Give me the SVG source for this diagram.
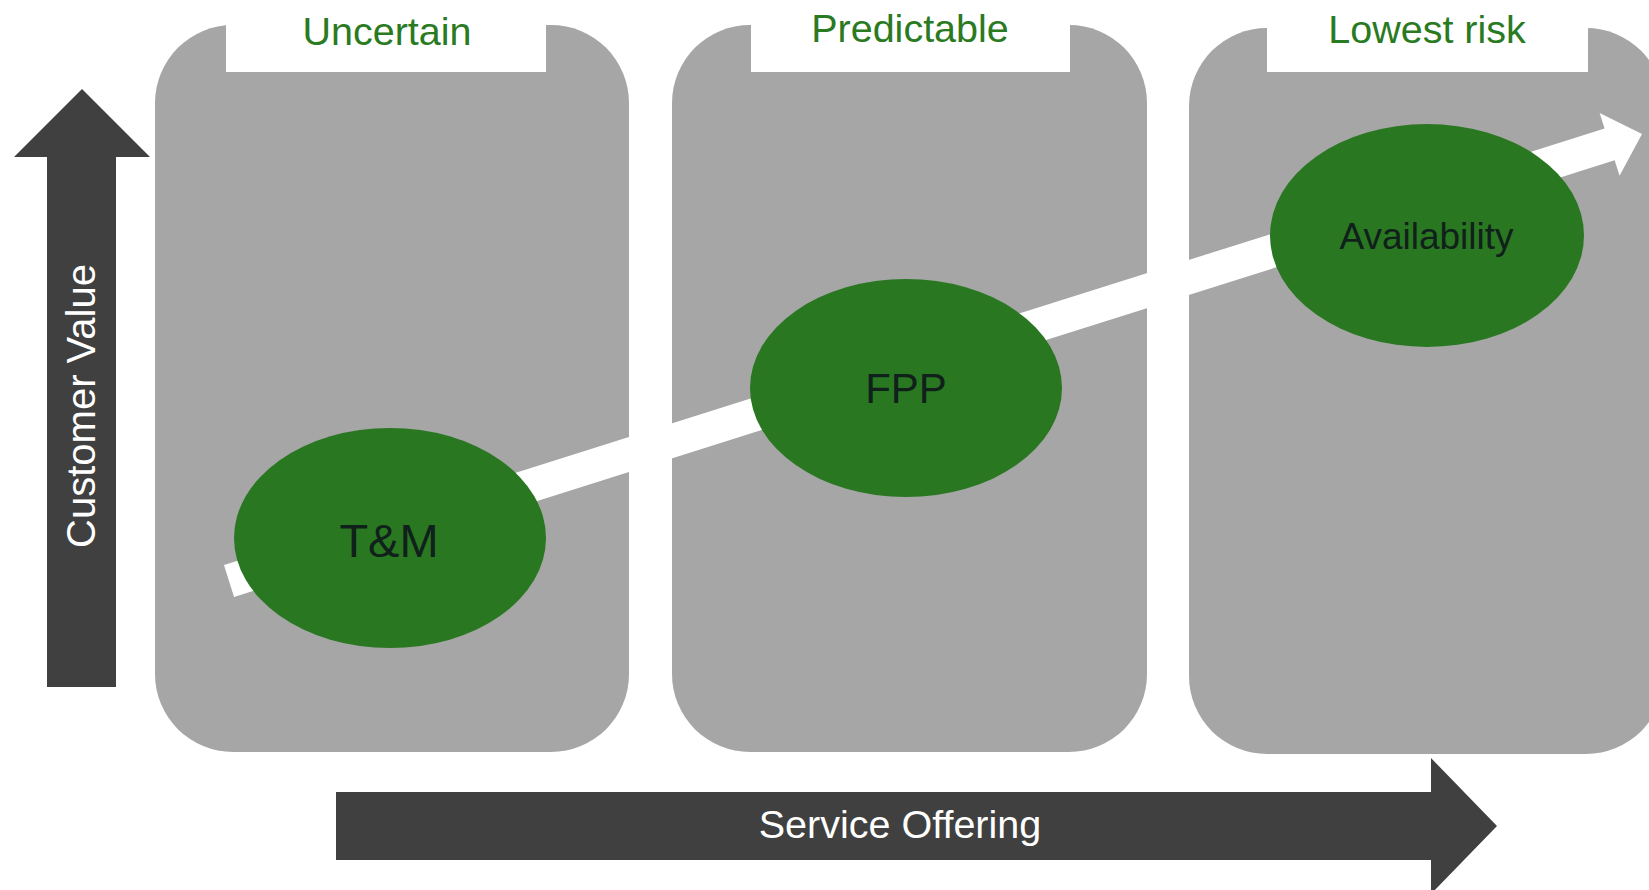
<svg xmlns="http://www.w3.org/2000/svg" width="1649" height="890" viewBox="0 0 1649 890">
<style>
.panel{fill:#A6A6A6}
.tab{fill:#FFFFFF}
.head{font-family:"Liberation Sans",Arial,sans-serif;font-size:39.5px;fill:#2A7A22;text-anchor:middle}
.oval{fill:#2A7722}
.olabel{font-family:"Liberation Sans",Arial,sans-serif;fill:#10201A;text-anchor:middle}
.axis{fill:#404040}
.axlabel{font-family:"Liberation Sans",Arial,sans-serif;fill:#FFFFFF;text-anchor:middle}
</style>
<rect width="1649" height="890" fill="#FFFFFF"/>
<g id="panel-uncertain">
<rect class="panel" x="155" y="25" width="474" height="727" rx="78" ry="78"/>
<rect class="tab" x="226" y="0" width="320" height="72"/>
<text class="head" x="387" y="45">Uncertain</text>
</g>
<g id="panel-predictable">
<rect class="panel" x="672" y="25" width="475" height="727" rx="78" ry="78"/>
<rect class="tab" x="751" y="0" width="319" height="72"/>
<text class="head" x="910" y="42">Predictable</text>
</g>
<g id="panel-lowest-risk">
<rect class="panel" x="1189" y="28" width="475" height="726" rx="78" ry="78"/>
<rect class="tab" x="1267" y="0" width="321" height="72"/>
<text class="head" x="1427" y="43">Lowest risk</text>
</g>
<g id="connectors">
<polygon fill="#FFFFFF" transform="translate(229,581) rotate(-17.55)" points="0,-16.7 1448,-16.7 1448,-33 1482,0 1448,33 1448,16.7 0,16.7"/>
</g>
<g id="node-tm">
<ellipse class="oval" cx="390" cy="538" rx="156" ry="110"/>
<text class="olabel" x="389" y="557" font-size="47">T&amp;M</text>
</g>
<g id="node-fpp">
<ellipse class="oval" cx="906" cy="388" rx="156" ry="109"/>
<text class="olabel" x="906" y="403" font-size="42">FPP</text>
</g>
<g id="node-availability">
<ellipse class="oval" cx="1427" cy="235.5" rx="157" ry="111.5"/>
<text class="olabel" x="1426.5" y="249" font-size="37">Availability</text>
</g>
<g id="axis-customer-value">
<polygon class="axis" points="82,89 150,157 116,157 116,687 47,687 47,157 14,157"/>
<text class="axlabel" font-size="40" transform="translate(95,406) rotate(-90)">Customer Value</text>
</g>
<g id="axis-service-offering">
<polygon class="axis" points="336,792 1431,792 1431,758 1497,826 1431,894 1431,860 336,860"/>
<text class="axlabel" font-size="39.5" x="900" y="838">Service Offering</text>
</g>
</svg>
